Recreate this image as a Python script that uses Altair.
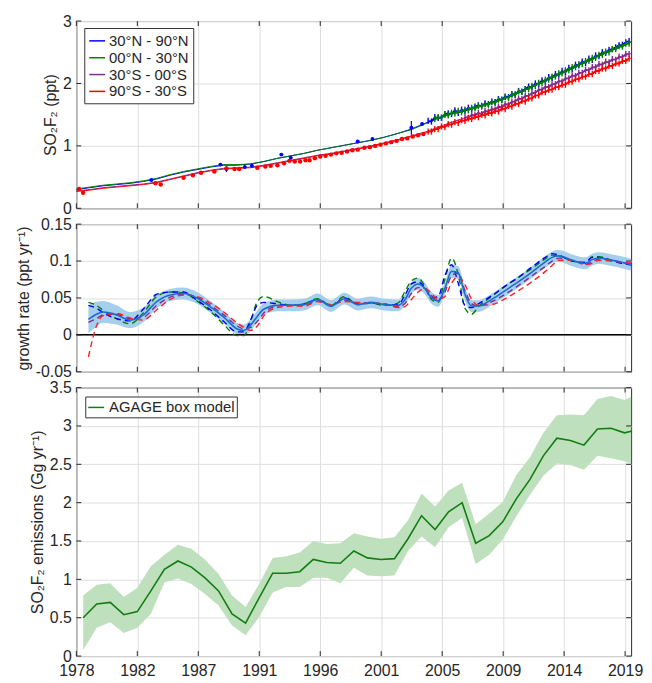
import json
import altair as alt
import pandas as pd

FONT = "Liberation Sans"
INK = "#262626"
GRID = "#dedede"

# ---------------- x axis (decimal years) ----------------
X_DOMAIN = [1978, 2019.4]
x_tick_pos = [1978, 1982.55, 1987.1, 1991.65, 1996.2, 2000.75, 2005.3, 2009.85, 2014.4, 2018.95]
x_tick_lab = ["1978", "1982", "1987", "1991", "1996", "2001", "2005", "2009", "2014", "2019"]

# ---------------- panel 1: mole fractions ----------------
series_names = ["30°N - 90°N", "00°N - 30°N", "30°S - 00°S", "90°S - 30°S"]
series_colors = ["#0000ff", "#008000", "#7e2f8e", "#ff0000"]

model_t = [1978, 1979, 1980, 1981, 1982, 1983, 1984, 1985, 1986, 1987, 1988, 1989, 1990, 1991,
           1992, 1993, 1994, 1995, 1996, 1997, 1998, 1999, 2000, 2001, 2002, 2003, 2004, 2005,
           2006, 2007, 2008, 2009, 2010, 2011, 2012, 2013, 2014, 2015, 2016, 2017, 2018, 2019, 2019.4]
model_blue = [0.30, 0.33, 0.36, 0.38, 0.40, 0.43, 0.47, 0.53, 0.58, 0.62, 0.66, 0.69, 0.69, 0.71,
              0.75, 0.80, 0.84, 0.88, 0.93, 0.97, 1.01, 1.05, 1.09, 1.14, 1.20, 1.27, 1.36, 1.45,
              1.52, 1.57, 1.63, 1.69, 1.77, 1.86, 1.95, 2.05, 2.15, 2.25, 2.35, 2.45, 2.54, 2.63, 2.67]
model_green = [0.31, 0.34, 0.37, 0.39, 0.41, 0.44, 0.48, 0.54, 0.59, 0.63, 0.67, 0.70, 0.70, 0.71,
               0.75, 0.80, 0.84, 0.88, 0.93, 0.97, 1.01, 1.05, 1.09, 1.14, 1.20, 1.26, 1.35, 1.44,
               1.51, 1.56, 1.62, 1.68, 1.76, 1.85, 1.94, 2.04, 2.14, 2.24, 2.34, 2.44, 2.53, 2.62, 2.66]
model_purple = [0.28, 0.30, 0.33, 0.35, 0.37, 0.39, 0.42, 0.47, 0.52, 0.57, 0.61, 0.64, 0.65, 0.66,
                0.69, 0.73, 0.77, 0.81, 0.85, 0.88, 0.92, 0.96, 1.00, 1.05, 1.10, 1.16, 1.22, 1.30,
                1.38, 1.45, 1.51, 1.57, 1.65, 1.74, 1.83, 1.93, 2.02, 2.11, 2.20, 2.29, 2.37, 2.45, 2.48]
model_red = [0.27, 0.29, 0.32, 0.34, 0.36, 0.38, 0.41, 0.46, 0.51, 0.56, 0.60, 0.63, 0.64, 0.65,
             0.68, 0.72, 0.76, 0.80, 0.84, 0.87, 0.91, 0.95, 0.99, 1.04, 1.09, 1.15, 1.20, 1.28,
             1.35, 1.41, 1.47, 1.53, 1.60, 1.68, 1.77, 1.87, 1.95, 2.04, 2.12, 2.21, 2.29, 2.37, 2.41]

# in-situ observations (quarter-year sampling)
obs_t = [2004.25, 2004.5, 2004.75, 2005.0, 2005.25, 2005.5, 2005.75, 2006.0, 2006.25, 2006.5,
         2006.75, 2007.0, 2007.25, 2007.5, 2007.75, 2008.0, 2008.25, 2008.5, 2008.75, 2009.0,
         2009.25, 2009.5, 2009.75, 2010.0, 2010.25, 2010.5, 2010.75, 2011.0, 2011.25, 2011.5,
         2011.75, 2012.0, 2012.25, 2012.5, 2012.75, 2013.0, 2013.25, 2013.5, 2013.75, 2014.0,
         2014.25, 2014.5, 2014.75, 2015.0, 2015.25, 2015.5, 2015.75, 2016.0, 2016.25, 2016.5,
         2016.75, 2017.0, 2017.25, 2017.5, 2017.75, 2018.0, 2018.25, 2018.5, 2018.75, 2019.0, 2019.25]
obs_blue = [1.40, 1.39, 1.46, 1.45, 1.45, 1.51, 1.52, 1.51, 1.57, 1.53,
            1.58, 1.56, 1.61, 1.59, 1.63, 1.65, 1.64, 1.68, 1.67, 1.71,
            1.70, 1.75, 1.74, 1.79, 1.78, 1.83, 1.82, 1.88, 1.87, 1.91,
            1.95, 1.94, 2.00, 1.99, 2.05, 2.03, 2.10, 2.09, 2.15, 2.14,
            2.20, 2.18, 2.25, 2.23, 2.30, 2.29, 2.35, 2.33, 2.40, 2.38,
            2.45, 2.44, 2.50, 2.49, 2.54, 2.55, 2.58, 2.61, 2.62, 2.66, 2.68]
obs_green = [1.43, 1.46, 1.45, 1.50, 1.49, 1.53, 1.52, 1.56,
             1.54, 1.58, 1.57, 1.61, 1.60, 1.64, 1.63, 1.67, 1.66, 1.70,
             1.69, 1.74, 1.73, 1.78, 1.77, 1.82, 1.82, 1.87, 1.86, 1.91,
             1.91, 1.96, 1.96, 2.01, 2.01, 2.06, 2.06, 2.11, 2.11, 2.16,
             2.16, 2.21, 2.21, 2.26, 2.26, 2.31, 2.31, 2.36, 2.36, 2.41,
             2.41, 2.46, 2.46, 2.51, 2.50, 2.55, 2.55, 2.60, 2.59, 2.64, 2.64]
obs_purple = [1.46, 1.45, 1.50, 1.49, 1.53, 1.51, 1.56, 1.55, 1.59,
              1.58, 1.63, 1.62, 1.67, 1.66, 1.71, 1.71, 1.76, 1.75, 1.80,
              1.80, 1.85, 1.85, 1.90, 1.90, 1.95, 1.94, 1.99, 1.99, 2.04,
              2.03, 2.08, 2.08, 2.13, 2.12, 2.17, 2.17, 2.22, 2.21, 2.26,
              2.26, 2.31, 2.30, 2.35, 2.34, 2.39, 2.38, 2.43, 2.42, 2.47, 2.47]
obs_red = [1.23, 1.23, 1.27, 1.27, 1.31, 1.30, 1.35, 1.34, 1.38, 1.37,
           1.41, 1.40, 1.44, 1.43, 1.47, 1.46, 1.50, 1.49, 1.53, 1.52,
           1.56, 1.55, 1.60, 1.59, 1.64, 1.63, 1.68, 1.67, 1.72, 1.71,
           1.76, 1.76, 1.81, 1.81, 1.86, 1.86, 1.90, 1.90, 1.94, 1.94,
           1.98, 1.98, 2.03, 2.03, 2.07, 2.07, 2.11, 2.11, 2.15, 2.15,
           2.20, 2.20, 2.24, 2.24, 2.28, 2.28, 2.32, 2.32, 2.36, 2.36, 2.40]
OBS_ERR = 0.05

# archive samples
arch_red_t = [1978.2, 1978.5, 1983.9, 1984.3, 1986.0, 1986.7, 1987.3, 1988.3, 1989.2, 1989.8, 1990.15,
              1991.5, 1992.1, 1992.5, 1993.0, 1993.5, 1993.9, 1994.3, 1994.7, 1995.1, 1995.4, 1995.8,
              1996.2, 1996.6, 1997.0, 1997.4, 1997.8, 1998.2, 1998.6, 1999.0, 1999.5, 1999.9,
              2000.3, 2000.7, 2001.1, 2001.5, 2001.9, 2002.3, 2002.7, 2003.1, 2003.5, 2003.9]
arch_red_v = [0.31, 0.25, 0.40, 0.38, 0.49, 0.53, 0.57, 0.59, 0.64, 0.63, 0.63,
              0.65, 0.67, 0.68, 0.69, 0.72, 0.76, 0.75, 0.75, 0.77, 0.77, 0.80,
              0.83, 0.84, 0.86, 0.88, 0.89, 0.91, 0.93, 0.94, 0.97, 0.98,
              1.00, 1.02, 1.04, 1.06, 1.08, 1.11, 1.12, 1.15, 1.17, 1.19]
arch_blue_t = [1983.6, 1988.75, 1989.2, 1990.57, 1991.1, 1993.3, 1994.0, 1999.0, 2000.1, 2003.0, 2003.8]
arch_blue_v = [0.455, 0.70, 0.63, 0.66, 0.68, 0.86, 0.81, 1.07, 1.11, 1.29, 1.35]
arch_blue_e = [0.01, 0.02, 0.05, 0.02, 0.02, 0.02, 0.015, 0.01, 0.02, 0.11, 0.02]

# ---------------- panel 2: growth rate ----------------
gr_t = [1978.9, 1979.5, 1980.0, 1981, 1982, 1983, 1984, 1985, 1986, 1987, 1988, 1989, 1990, 1990.5,
        1991, 1991.5, 1992, 1993, 1994, 1995, 1996, 1997, 1998, 1999, 2000, 2001, 2002, 2002.5,
        2003, 2003.5, 2004, 2004.5, 2005, 2005.5, 2006, 2006.5, 2007, 2007.5, 2008, 2009, 2010,
        2011, 2012, 2013, 2013.5, 2014, 2015, 2016, 2016.5, 2017, 2018, 2019, 2019.4]
gr_mean = [0.021, 0.028, 0.031, 0.027, 0.020, 0.027, 0.045, 0.054, 0.056, 0.050, 0.038, 0.024, 0.008, 0.006,
           0.013, 0.025, 0.035, 0.040, 0.040, 0.041, 0.048, 0.039, 0.049, 0.041, 0.044, 0.041, 0.040, 0.047,
           0.063, 0.069, 0.063, 0.050, 0.046, 0.063, 0.086, 0.084, 0.055, 0.039, 0.039, 0.048, 0.060,
           0.072, 0.085, 0.099, 0.105, 0.107, 0.101, 0.097, 0.102, 0.104, 0.101, 0.097, 0.095]
gr_halfwidth = [0.019, 0.017, 0.015, 0.013, 0.011, 0.010, 0.009, 0.008, 0.008, 0.008, 0.008, 0.008, 0.008, 0.008,
                0.008, 0.008, 0.008, 0.008, 0.008, 0.008, 0.008, 0.008, 0.008, 0.008, 0.008, 0.008, 0.008, 0.008,
                0.008, 0.008, 0.008, 0.008, 0.008, 0.008, 0.009, 0.009, 0.009, 0.008, 0.008, 0.008, 0.008,
                0.008, 0.008, 0.008, 0.008, 0.008, 0.008, 0.008, 0.008, 0.008, 0.008, 0.008, 0.008]
gr_green = [0.044, 0.040, 0.033, 0.022, 0.015, 0.030, 0.052, 0.058, 0.057, 0.046, 0.032, 0.014, -0.001, -0.001,
            0.018, 0.045, 0.052, 0.045, 0.040, 0.042, 0.049, 0.040, 0.052, 0.041, 0.043, 0.040, 0.043, 0.058,
            0.073, 0.077, 0.066, 0.048, 0.044, 0.075, 0.104, 0.082, 0.036, 0.028, 0.038, 0.052, 0.066,
            0.078, 0.090, 0.103, 0.108, 0.107, 0.100, 0.098, 0.106, 0.106, 0.101, 0.096, 0.095]
gr_blue = [0.040, 0.036, 0.030, 0.022, 0.019, 0.035, 0.055, 0.058, 0.058, 0.047, 0.034, 0.018, 0.004, 0.004,
           0.020, 0.040, 0.044, 0.042, 0.040, 0.042, 0.048, 0.039, 0.050, 0.042, 0.043, 0.041, 0.041, 0.053,
           0.069, 0.072, 0.064, 0.050, 0.052, 0.080, 0.095, 0.070, 0.040, 0.037, 0.042, 0.053, 0.066,
           0.078, 0.092, 0.105, 0.110, 0.108, 0.100, 0.098, 0.105, 0.105, 0.100, 0.096, 0.095]
gr_purple = [0.017, 0.022, 0.027, 0.028, 0.022, 0.024, 0.040, 0.051, 0.055, 0.051, 0.040, 0.027, 0.012, 0.008,
             0.010, 0.018, 0.030, 0.039, 0.040, 0.040, 0.046, 0.040, 0.047, 0.043, 0.043, 0.042, 0.038, 0.042,
             0.056, 0.064, 0.063, 0.053, 0.047, 0.058, 0.080, 0.084, 0.060, 0.042, 0.039, 0.045, 0.055,
             0.067, 0.080, 0.093, 0.100, 0.104, 0.101, 0.096, 0.099, 0.103, 0.101, 0.097, 0.096]
gr_red = [-0.030, 0.012, 0.026, 0.029, 0.023, 0.020, 0.034, 0.048, 0.054, 0.052, 0.043, 0.031, 0.016, 0.010,
          0.006, 0.012, 0.026, 0.037, 0.039, 0.039, 0.045, 0.041, 0.045, 0.044, 0.043, 0.042, 0.037, 0.038,
          0.048, 0.058, 0.063, 0.056, 0.048, 0.052, 0.070, 0.079, 0.068, 0.048, 0.040, 0.041, 0.049,
          0.060, 0.072, 0.086, 0.094, 0.101, 0.101, 0.095, 0.097, 0.101, 0.100, 0.098, 0.097]

# ---------------- panel 3: emissions ----------------
em_t = [1978.51, 1979.52, 1980.53, 1981.54, 1982.55, 1983.56, 1984.57, 1985.58, 1986.59, 1987.60,
        1988.61, 1989.62, 1990.63, 1991.64, 1992.65, 1993.66, 1994.67, 1995.68, 1996.69, 1997.70,
        1998.71, 1999.72, 2000.73, 2001.74, 2002.75, 2003.76, 2004.77, 2005.78, 2006.79, 2007.80,
        2008.81, 2009.82, 2010.83, 2011.84, 2012.85, 2013.86, 2014.87, 2015.88, 2016.89, 2017.90,
        2018.91, 2019.40]
em_v = [0.50, 0.68, 0.70, 0.54, 0.58, 0.85, 1.13, 1.24, 1.16, 1.02,
        0.85, 0.55, 0.43, 0.76, 1.08, 1.08, 1.10, 1.26, 1.22, 1.21,
        1.37, 1.28, 1.26, 1.27, 1.53, 1.83, 1.65, 1.88, 2.00, 1.47,
        1.57, 1.75, 2.05, 2.30, 2.61, 2.84, 2.81, 2.75, 2.96, 2.97,
        2.91, 2.93]
em_hi = [0.79, 0.93, 0.95, 0.77, 0.89, 1.17, 1.32, 1.45, 1.40, 1.26,
         1.07, 0.79, 0.64, 0.94, 1.28, 1.30, 1.35, 1.50, 1.46, 1.47,
         1.60, 1.56, 1.53, 1.55, 1.77, 2.12, 1.95, 2.16, 2.26, 1.72,
         1.86, 2.01, 2.36, 2.59, 2.91, 3.14, 3.15, 3.14, 3.35, 3.39,
         3.34, 3.38]
em_lo = [0.08, 0.37, 0.44, 0.30, 0.37, 0.55, 0.96, 1.01, 0.94, 0.81,
         0.66, 0.40, 0.27, 0.51, 0.83, 0.90, 0.90, 1.02, 1.02, 0.95,
         1.15, 1.05, 1.04, 1.05, 1.37, 1.56, 1.42, 1.68, 1.80, 1.20,
         1.32, 1.52, 1.82, 2.10, 2.35, 2.51, 2.49, 2.43, 2.61, 2.58,
         2.54, 2.51]

# ---------------- helpers ----------------
W, H1, H2, H3 = 560, 189, 149, 271
LABEL_EXPR = f"{json.dumps(x_tick_lab)}[indexof({json.dumps(x_tick_pos)}, datum.value)]"
X_SCALE = alt.Scale(domain=X_DOMAIN, nice=False, zero=False)


def make_x(labels):
    axis = alt.Axis(values=x_tick_pos, labels=labels, ticks=False, domain=False, grid=True,
                    title=None, labelExpr=LABEL_EXPR, labelPadding=7, labelFlush=False)

    def X(field):
        return alt.X(f"{field}:Q", scale=X_SCALE, axis=axis)
    return X


def make_y(domain, ticks, title):
    scale = alt.Scale(domain=domain, nice=False, zero=False)
    axis = alt.Axis(values=ticks, title=title, ticks=False, domain=False, grid=True,
                    labelExpr="'' + datum.value", labelPadding=5, titlePadding=4)

    def Y(field):
        return alt.Y(f"{field}:Q", scale=scale, axis=axis)
    return Y


def frame_ticks(X, Y, yticks, height):
    xt = pd.DataFrame({"t": x_tick_pos})
    yt = pd.DataFrame({"v": yticks})
    out = []
    for y0, y1 in ((0, 5), (height - 5, height)):
        out.append(alt.Chart(xt).mark_rule(color=INK, strokeWidth=1).encode(
            x=X("t"), y=alt.value(y0), y2=alt.value(y1)))
    for x0, x1 in ((0, 5), (W - 5, W)):
        out.append(alt.Chart(yt).mark_rule(color=INK, strokeWidth=1).encode(
            y=Y("v"), x=alt.value(x0), x2=alt.value(x1)))
    return out


# ---------------- panel 1 ----------------
X1 = make_x(False)
Y1 = make_y([0, 3], [0, 1, 2, 3], "SO₂F₂ (ppt)")

model_df = pd.concat([
    pd.DataFrame({"t": model_t, "v": vals, "s": name})
    for vals, name in zip([model_blue, model_green, model_purple, model_red], series_names)
])
legend1 = alt.Legend(title=None, orient="none", legendX=8, legendY=7, symbolType="stroke",
                     symbolSize=256, symbolStrokeWidth=1.5, labelFontSize=15, labelFont=FONT,
                     labelColor=INK, padding=4, strokeColor="#333333", fillColor="white",
                     rowPadding=0, labelOffset=3, cornerRadius=0)
p1_layers = [
    alt.Chart(model_df).mark_line(strokeWidth=1).encode(
        x=X1("t"), y=Y1("v"),
        color=alt.Color("s:N", scale=alt.Scale(domain=series_names, range=series_colors), legend=legend1),
        detail="s:N")
]

arch_red_df = pd.DataFrame({"t": arch_red_t, "v": arch_red_v})
arch_blue_df = pd.DataFrame({"t": arch_blue_t, "v": arch_blue_v, "e": arch_blue_e})
p1_layers.append(alt.Chart(arch_blue_df).transform_calculate(
    lo="datum.v - datum.e", hi="datum.v + datum.e").mark_rule(color="#0000ff", strokeWidth=1.2).encode(
    x=X1("t"), y=Y1("lo"), y2="hi:Q"))
p1_layers.append(alt.Chart(arch_blue_df).mark_circle(color="#0000ff", size=16, opacity=1).encode(
    x=X1("t"), y=Y1("v")))

obs_sets = [
    (obs_t, obs_blue, "#0000ff"),
    (obs_t[2:], obs_green, "#008000"),
    (obs_t[11:], obs_purple, "#7e2f8e"),
    (obs_t, obs_red, "#ff0000"),
]
for ts, vs, col in obs_sets:
    df = pd.DataFrame({"t": ts, "v": vs})
    p1_layers.append(alt.Chart(df).transform_calculate(
        lo=f"datum.v - {OBS_ERR}", hi=f"datum.v + {OBS_ERR}").mark_rule(color=col, strokeWidth=1.4).encode(
        x=X1("t"), y=Y1("lo"), y2="hi:Q"))
    p1_layers.append(alt.Chart(df).mark_line(color=col, strokeWidth=1.8).encode(x=X1("t"), y=Y1("v")))

p1_layers.append(alt.Chart(arch_red_df).transform_calculate(
    lo="datum.v - 0.015", hi="datum.v + 0.015").mark_rule(color="#ff0000", strokeWidth=1.2).encode(
    x=X1("t"), y=Y1("lo"), y2="hi:Q"))
p1_layers.append(alt.Chart(arch_red_df).mark_circle(color="#ff0000", size=20, opacity=1).encode(
    x=X1("t"), y=Y1("v")))
p1_layers += frame_ticks(X1, Y1, [0, 1, 2, 3], H1)
panel1 = alt.layer(*p1_layers).properties(width=W, height=H1)

# ---------------- panel 2 ----------------
X2 = make_x(False)
Y2 = make_y([-0.05, 0.15], [-0.05, 0, 0.05, 0.1, 0.15], "growth rate (ppt yr⁻¹)")
gr_df = pd.DataFrame({"t": gr_t, "v": gr_mean, "hw": gr_halfwidth})
p2_layers = [
    alt.Chart(gr_df).transform_calculate(lo="datum.v - datum.hw", hi="datum.v + datum.hw")
    .mark_area(color="#a6cfee", opacity=1, interpolate="monotone").encode(x=X2("t"), y=Y2("lo"), y2="hi:Q"),
    alt.Chart(pd.DataFrame({"v": [0]})).mark_rule(color="#000000", strokeWidth=1.5).encode(y=Y2("v")),
]
for vals, col in ((gr_green, "#008000"), (gr_blue, "#0000ff"), (gr_purple, "#7e2f8e"), (gr_red, "#ff2020")):
    p2_layers.append(alt.Chart(pd.DataFrame({"t": gr_t, "v": vals})).mark_line(
        color=col, strokeWidth=1.4, strokeDash=[6, 4], interpolate="monotone").encode(x=X2("t"), y=Y2("v")))
p2_layers.append(alt.Chart(gr_df).mark_line(color="#1c6bd0", strokeWidth=1.6, interpolate="monotone").encode(
    x=X2("t"), y=Y2("v")))
p2_layers += frame_ticks(X2, Y2, [-0.05, 0, 0.05, 0.1, 0.15], H2)
panel2 = alt.layer(*p2_layers).properties(width=W, height=H2)

# ---------------- panel 3 ----------------
X3 = make_x(True)
Y3 = make_y([0, 3.5], [0, 0.5, 1, 1.5, 2, 2.5, 3, 3.5], "SO₂F₂ emissions (Gg yr⁻¹)")
em_df = pd.DataFrame({"t": em_t, "v": em_v, "lo": em_lo, "hi": em_hi, "m": "AGAGE box model"})
legend3 = alt.Legend(title=None, orient="none", legendX=9, legendY=9, symbolType="stroke",
                     symbolSize=256, symbolStrokeWidth=1.5, labelFontSize=15, labelFont=FONT,
                     labelColor=INK, padding=2, strokeColor="#333333", fillColor="white",
                     labelOffset=4, cornerRadius=0)
p3_layers = [
    alt.Chart(em_df).mark_area(color="#bfe0bc", opacity=1).encode(x=X3("t"), y=Y3("lo"), y2="hi:Q"),
    alt.Chart(em_df).mark_line(strokeWidth=1.6).encode(
        x=X3("t"), y=Y3("v"),
        color=alt.Color("m:N", scale=alt.Scale(domain=["AGAGE box model"], range=["#117d11"]), legend=legend3)),
]
p3_layers += frame_ticks(X3, Y3, [0, 0.5, 1, 1.5, 2, 2.5, 3, 3.5], H3)
panel3 = alt.layer(*p3_layers).properties(width=W, height=H3)

chart = (
    alt.vconcat(panel1, panel2, panel3, spacing=16, bounds="flush")
    .resolve_scale(color="independent")
    .properties(padding={"left": 7, "top": 1, "right": 0, "bottom": 0}, background="white")
    .configure_view(stroke=INK, strokeWidth=1)
    .configure_axis(labelFont=FONT, titleFont=FONT, labelFontSize=16, titleFontSize=16,
                    labelColor=INK, titleColor=INK, titleFontWeight="normal",
                    gridColor=GRID, gridWidth=1)
    .configure_legend(labelFont=FONT)
)

chart.save("out.html", embed_options={"renderer": "svg", "actions": False})
